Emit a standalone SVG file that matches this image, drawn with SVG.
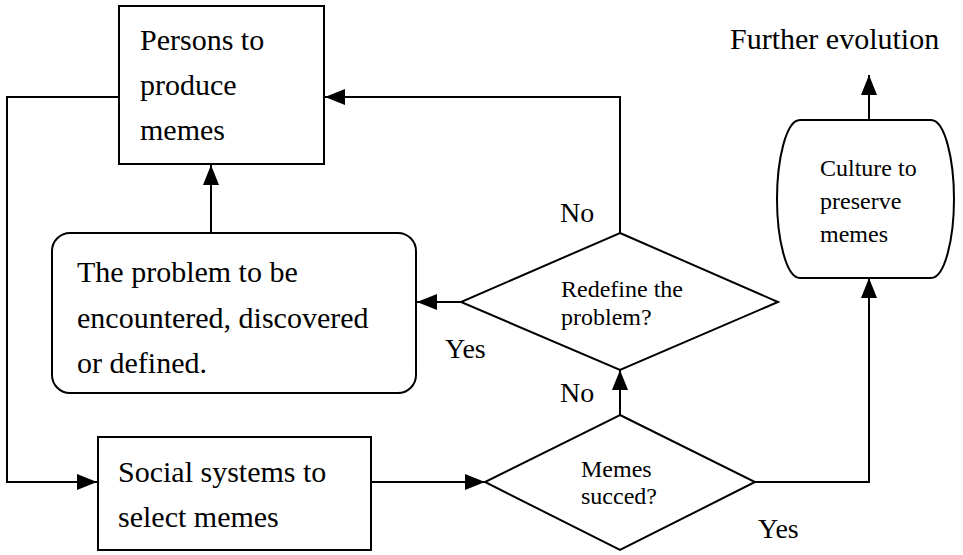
<svg xmlns="http://www.w3.org/2000/svg" width="963" height="555" viewBox="0 0 963 555">
<style>
.shape{fill:#fff;stroke:#000;stroke-width:2}
.line{fill:none;stroke:#000;stroke-width:2}
.big{font-family:"Liberation Serif","Times New Roman",serif;font-size:30px;fill:#000}
.small{font-family:"Liberation Serif","Times New Roman",serif;font-size:24px;fill:#000}
.lbl{font-family:"Liberation Serif","Times New Roman",serif;font-size:28px;fill:#000}
</style>
<defs>
<marker id="arr" markerUnits="userSpaceOnUse" markerWidth="20" markerHeight="16" refX="20" refY="8" orient="auto">
<path d="M0,0 L20,8 L0,16 Z" fill="#000"/>
</marker>
</defs>
<rect width="963" height="555" fill="#fff"/>
<g id="connectors">
<path class="line" d="M119,97 H7 V482 H97" marker-end="url(#arr)"/>
<path class="line" d="M211,233 V165" marker-end="url(#arr)"/>
<path class="line" d="M620,233 V97 H325" marker-end="url(#arr)"/>
<path class="line" d="M461,302 H417" marker-end="url(#arr)"/>
<path class="line" d="M371,482 H485" marker-end="url(#arr)"/>
<path class="line" d="M620,415 V370" marker-end="url(#arr)"/>
<path class="line" d="M755,482 H869 V278" marker-end="url(#arr)"/>
<path class="line" d="M869,120 V75" marker-end="url(#arr)"/>
</g>
<g id="persons">
<rect class="shape" x="119" y="6" width="205" height="158"/>
<text class="big" x="140" y="50">Persons to</text>
<text class="big" x="140" y="95">produce</text>
<text class="big" x="140" y="140">memes</text>
</g>
<g id="problem">
<rect class="shape" x="52" y="233" width="364" height="160" rx="18" ry="18"/>
<text class="big" x="77" y="282">The problem to be</text>
<text class="big" x="77" y="328">encountered, discovered</text>
<text class="big" x="77" y="373">or defined.</text>
</g>
<g id="social">
<rect class="shape" x="98" y="437" width="273" height="113"/>
<text class="big" x="118" y="482">Social systems to</text>
<text class="big" x="118" y="527">select memes</text>
</g>
<g id="redefine">
<polygon class="shape" points="620,233 778,302 620,370 461,302"/>
<text class="small" x="561" y="297">Redefine the</text>
<text class="small" x="561" y="325">problem?</text>
</g>
<g id="memes">
<polygon class="shape" points="620,415 755,482 620,550 485,482"/>
<text class="small" x="581" y="477">Memes</text>
<text class="small" x="581" y="504">succed?</text>
</g>
<g id="culture">
<path class="shape" d="M800,120 H931 C945,120 954,160 954,199 C954,238 945,278 931,278 H800 C786,278 777,238 777,199 C777,160 786,120 800,120 Z"/>
<text class="small" x="820" y="176">Culture to</text>
<text class="small" x="820" y="209">preserve</text>
<text class="small" x="820" y="242">memes</text>
</g>
<g id="further">
<text class="big" x="730" y="49">Further evolution</text>
</g>
<g id="labels">
<text class="lbl" x="560" y="222">No</text>
<text class="lbl" x="445" y="358">Yes</text>
<text class="lbl" x="560" y="402">No</text>
<text class="lbl" x="758" y="538">Yes</text>
</g>
</svg>
